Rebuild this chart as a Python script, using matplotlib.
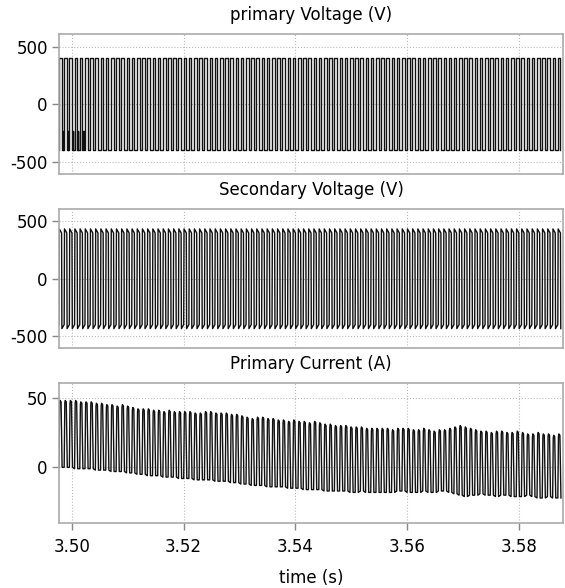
import numpy as np
import matplotlib
matplotlib.use("Agg")
import matplotlib.pyplot as plt

plt.rcParams['font.family'] = ['DejaVu Sans']
plt.rcParams['axes.unicode_minus'] = False

# Datos
# ========================================
t_first = 3.4977      # inicio de la ventana (s)
t_last = 3.5879       # fin de la ventana (s)
period = 0.00093      # periodo de conmutacion (s)

# Tension primaria (V)
vp_high = 400
vp_low = -400
vp_spike = -230       # picos en los primeros ciclos
n_spike = 5

# Tension secundaria (V): pico tras conmutar y luego cae
vs_peak = 435
vs_flat = 400

# Corriente primaria (A), maximo y minimo de cada ciclo
ip_high = [48, 48, 48, 48, 47, 47, 47, 46, 46, 45, 45,
           44, 45, 44, 43, 42, 42, 42, 41, 41, 40,
           41, 40, 40, 40, 40, 39, 39, 40, 40, 39,
           39, 39, 38, 38, 37, 36, 35, 36, 36, 35,
           35, 34, 34, 33, 34, 33, 33, 32, 33, 32,
           31, 31, 30, 30, 30, 29, 29, 29, 28, 28,
           28, 28, 28, 27, 28, 28, 28, 27, 27, 28,
           27, 26, 27, 27, 28, 29, 30, 29, 28, 27,
           26, 26, 25, 26, 26, 25, 25, 26, 25, 24, 24, 25, 24, 24, 23, 24]
ip_low = [0, 0, 0, -1, -1, -1, -1, -2, -2, -2, -3,
          -3, -3, -4, -4, -5, -5, -6, -6, -6, -7,
          -7, -7, -8, -8, -8, -9, -9, -9, -9, -10,
          -10, -10, -11, -11, -12, -12, -13, -13, -13, -14,
          -14, -14, -14, -15, -15, -15, -16, -16, -16, -16,
          -17, -17, -17, -17, -17, -18, -18, -17, -18, -18,
          -18, -18, -18, -18, -17, -17, -18, -18, -18, -17,
          -18, -18, -17, -17, -18, -19, -20, -21, -20, -20,
          -19, -20, -20, -21, -20, -20, -21, -21, -21, -20, -21, -22, -22, -21, -22, -22]

x_ticks = [3.50, 3.52, 3.54, 3.56, 3.58]

# Construccion de las formas de onda ciclo a ciclo
# ========================================
n_cycles = len(ip_high)
tp, vp, ts, vs, ti, ii = [], [], [], [], [], []
for k in range(n_cycles):
    t0 = t_first + k * period
    P = period
    # primaria: cuadrada
    tp += [t0, t0, t0 + 0.5 * P, t0 + 0.5 * P]
    vp += [vp_low, vp_high, vp_high, vp_low]
    if k < n_spike:
        tp += [t0 + 0.7 * P, t0 + 0.7 * P, t0 + 0.75 * P, t0 + 0.75 * P]
        vp += [vp_low, vp_spike, vp_spike, vp_low]
    # secundaria
    ts += [t0, t0 + 0.06 * P, t0 + 0.5 * P, t0 + 0.56 * P]
    vs += [-vs_flat, vs_peak, vs_flat, -vs_peak]
    # corriente
    hi, lo = ip_high[k], ip_low[k]
    ti += [t0, t0 + 0.12 * P, t0 + 0.2 * P, t0 + 0.4 * P, t0 + 0.6 * P]
    ii += [lo, hi - 2, hi, hi - 1, lo]

fig = plt.figure(figsize=(5.65, 5.88), dpi=100)
ax1 = fig.add_axes([0.1044, 0.704, 0.892, 0.238])
ax2 = fig.add_axes([0.1044, 0.408, 0.892, 0.2364])
ax3 = fig.add_axes([0.1044, 0.1105, 0.892, 0.238])

lw = 1.0
ax1.plot(tp, vp, color='#111111', linewidth=lw)
ax2.plot(ts, vs, color='#111111', linewidth=lw)
ax3.plot(ti, ii, color='#111111', linewidth=lw)

titles = ['primary Voltage (V)', 'Secondary Voltage (V)', 'Primary Current (A)']
for ax, title in zip([ax1, ax2, ax3], titles):
    ax.set_xlim(t_first, t_last)
    ax.set_xticks(x_ticks)
    ax.set_title(title, fontsize=12, pad=10)
    ax.grid(True, linestyle=':', color='#bbbbbb', linewidth=0.8)
    for s in ax.spines.values():
        s.set_color('#aaaaaa')
        s.set_linewidth(1.2)
    ax.tick_params(colors='#888888', labelcolor='black', labelsize=12,
                   length=5, width=1, pad=3)

for ax in [ax1, ax2]:
    ax.set_ylim(-605, 608)
    ax.set_yticks([-500, 0, 500])
    ax.tick_params(axis='x', length=0, labelbottom=False)

ax3.set_ylim(-40, 60.5)
ax3.set_yticks([0, 50])
ax3.set_xticklabels(['%.2f' % t for t in x_ticks])
ax3.tick_params(axis='x', pad=6)
ax3.set_xlabel('time (s)', fontsize=12, labelpad=9)

fig.savefig('out.png', dpi=100)
